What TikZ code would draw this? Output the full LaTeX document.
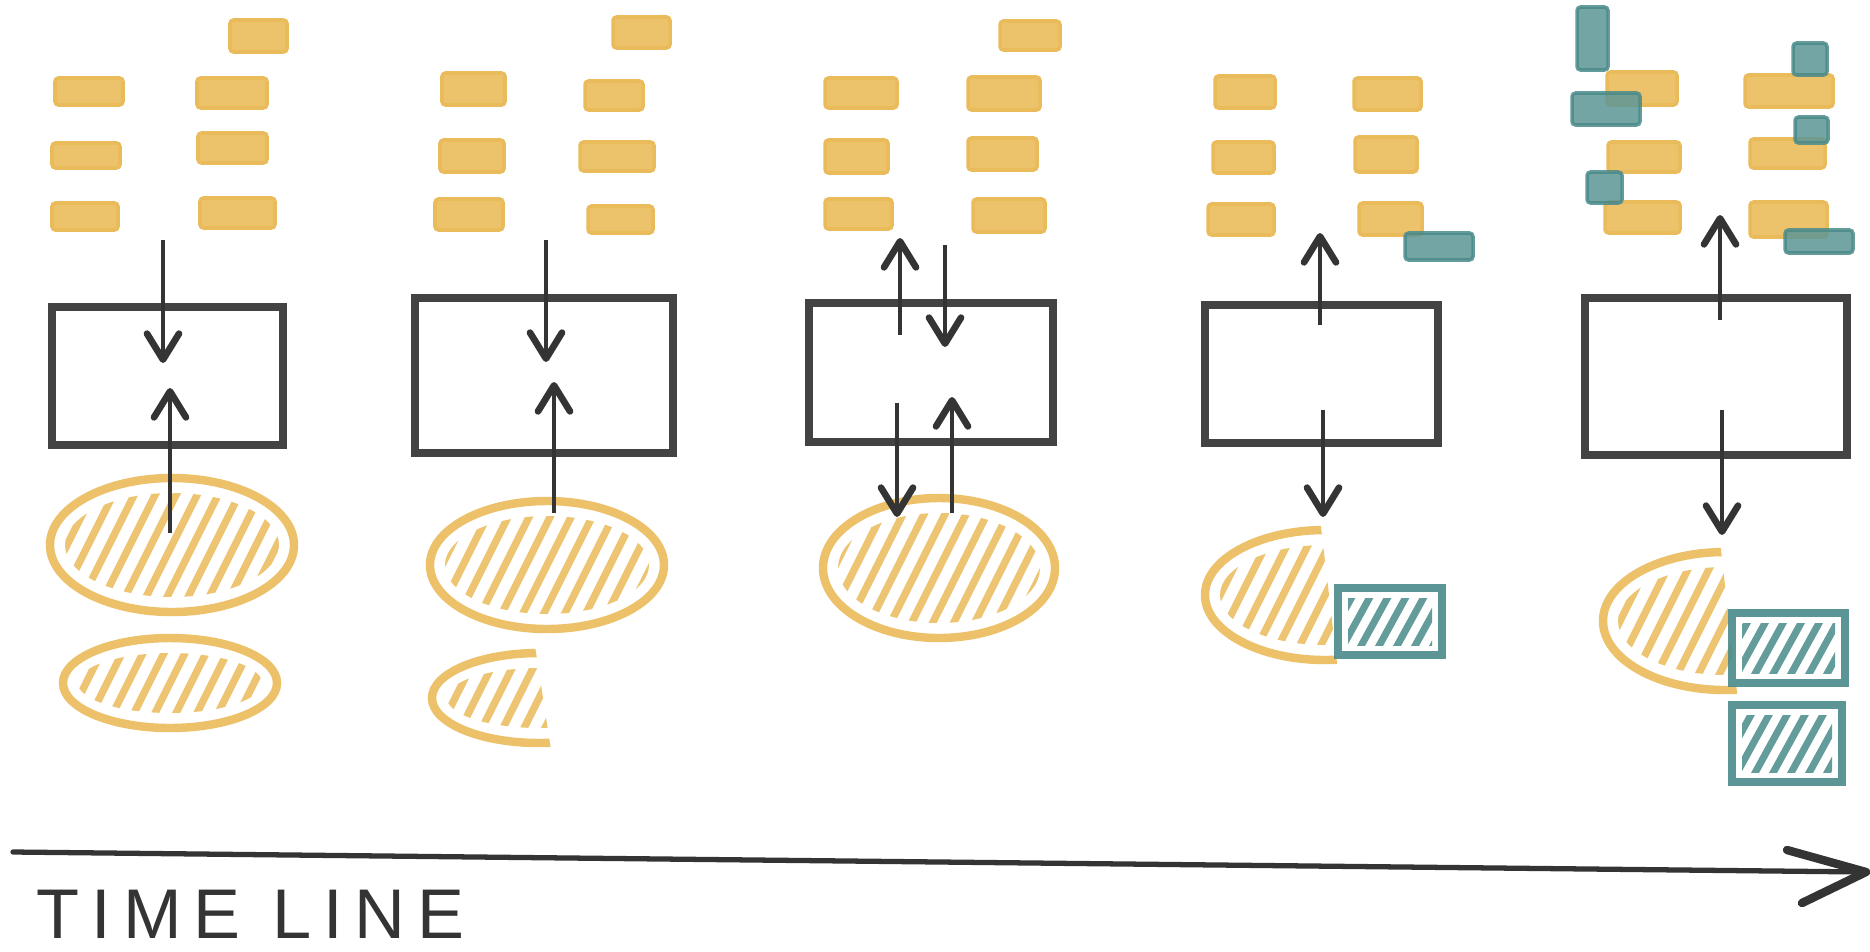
\documentclass[tikz,border=0pt]{standalone}
\usepackage{fontspec}
\usetikzlibrary{arrows.meta,fit}
\newfontfamily\tlfont[LetterSpace=17]{Liberation Sans}
\definecolor{ochre}{RGB}{234,187,90}
\definecolor{tealc}{RGB}{74,138,138}
\definecolor{pencil}{RGB}{52,52,52}
\tikzset{
  ybar/.style={fill=ochre!90, draw=ochre, line width=1pt, rounded corners=1pt, inner sep=0pt},
  tbar/.style={fill=tealc!90, draw=tealc, line width=1pt, rounded corners=1pt, inner sep=0pt, opacity=.85},
  tbig/.style={draw=tealc, line width=2.3pt, inner sep=0pt, opacity=.9},
  boxst/.style={draw=pencil, line width=2.3pt, inner sep=0pt, opacity=.92},
  eo/.style={draw=ochre, line width=2.4pt, opacity=.9},
  hy/.style={draw=ochre, line width=2.1pt, line cap=round, opacity=.85},
  ht/.style={draw=tealc, line width=2pt, line cap=round, opacity=.85},
  arr/.style={draw=pencil, line width=1.1pt, -{Straight Barb[length=2.6mm,width=3.2mm,line width=1.9pt,round]}},
  tline/.style={draw=pencil, line width=1.5pt, line cap=round},
  thead/.style={draw=pencil, line width=2.4pt, line cap=round, line join=round},
}
\newcommand\ybox[5]{\node[ybar, fit={(#2,#3) (#4,#5)}] (#1) {};}
\newcommand\tbox[5]{\node[tbar, fit={(#2,#3) (#4,#5)}] (#1) {};}
\newcommand\hatchE[4]{%
  \begin{scope}
    \clip (#1,#2) ellipse [x radius={#3-15}, y radius={#4-15}];
    \foreach \k in {-14,...,14}{\draw[hy] ({#1+\k*21-0.5*#4},{#2+#4}) -- ++({1.0*#4},{-2*#4});}
  \end{scope}}
\newcommand\halfE[4]{%
  \begin{scope}
    \clip ({#1-#3-20},{#2-#4-20}) -- ({#1-6},{#2-#4-20}) -- ({#1+14},{#2+#4+20}) -- ({#1-#3-20},{#2+#4+20}) -- cycle;
    \draw[eo] (#1,#2) ellipse [x radius=#3, y radius=#4];
    \clip (#1,#2) ellipse [x radius={#3-15}, y radius={#4-15}];
    \foreach \k in {-14,...,14}{\draw[hy] ({#1+\k*21-0.5*#4},{#2+#4}) -- ++({1.0*#4},{-2*#4});}
  \end{scope}}
\newcommand\fullE[4]{%
  \draw[eo] (#1,#2) ellipse [x radius=#3, y radius=#4];
  \hatchE{#1}{#2}{#3}{#4}}
\newcommand\hatchR[4]{%
  \begin{scope}
    \clip ({#1+10},{#2+10}) rectangle ({#3-10},{#4-10});
    \foreach \k in {-5,...,10}{\draw[ht] ({#1+\k*18},{#4}) -- ++({0.55*(#4-#2)},{-(#4-#2)});}
  \end{scope}}
\begin{document}
\begin{tikzpicture}[x=0.01cm,y=-0.01cm]
\fill[white] (0,0) rectangle (1870,951);
\useasboundingbox (0,0) rectangle (1870,951);

% ---------- column 1 ----------
\ybox{c1t}{230}{20}{287}{52}
\ybox{c1la}{55}{78}{123}{105}
\ybox{c1lb}{52}{143}{120}{168}
\ybox{c1lc}{52}{203}{118}{230}
\ybox{c1ra}{197}{78}{267}{108}
\ybox{c1rb}{198}{133}{267}{163}
\ybox{c1rc}{200}{198}{275}{228}
\fullE{172}{545}{122}{67}
\fullE{170}{683}{107}{45}
\node[boxst, fit={(52,307) (283,445)}] (b1) {};
\coordinate (a1s) at (163,240); \coordinate (a1e) at (163,363);
\coordinate (a2s) at (170,533); \coordinate (a2e) at (170,388);
\draw[arr] (a1s) -- (a1e);
\draw[arr] (a2s) -- (a2e);

% ---------- column 2 ----------
\ybox{c2t}{613}{17}{670}{48}
\ybox{c2la}{442}{73}{505}{105}
\ybox{c2lb}{440}{140}{504}{172}
\ybox{c2lc}{435}{199}{503}{230}
\ybox{c2ra}{585}{81}{643}{110}
\ybox{c2rb}{580}{142}{654}{171}
\ybox{c2rc}{588}{206}{653}{233}
\fullE{547}{565}{117}{64}
\halfE{539}{698}{107}{45}
\node[boxst, fit={(415,298) (673,453)}] (b2) {};
\coordinate (a3s) at (546,240); \coordinate (a3e) at (546,362);
\coordinate (a4s) at (554,513); \coordinate (a4e) at (554,382);
\draw[arr] (a3s) -- (a3e);
\draw[arr] (a4s) -- (a4e);

% ---------- column 3 ----------
\ybox{c3t}{1000}{21}{1060}{50}
\ybox{c3la}{825}{78}{897}{108}
\ybox{c3lb}{825}{140}{888}{173}
\ybox{c3lc}{825}{199}{892}{229}
\ybox{c3ra}{968}{77}{1040}{110}
\ybox{c3rb}{968}{138}{1037}{170}
\ybox{c3rc}{973}{199}{1045}{232}
\fullE{939}{568}{116}{70}
\node[boxst, fit={(809,303) (1053,442)}] (b3) {};
\coordinate (a5s) at (900,335); \coordinate (a5e) at (900,238);
\coordinate (a6s) at (945,245); \coordinate (a6e) at (945,347);
\coordinate (a7s) at (897,403); \coordinate (a7e) at (897,517);
\coordinate (a8s) at (952,513); \coordinate (a8e) at (952,397);
\draw[arr] (a5s) -- (a5e);
\draw[arr] (a6s) -- (a6e);
\draw[arr] (a7s) -- (a7e);
\draw[arr] (a8s) -- (a8e);

% ---------- column 4 ----------
\ybox{c4la}{1215}{76}{1275}{108}
\ybox{c4lb}{1213}{142}{1274}{173}
\ybox{c4lc}{1208}{204}{1274}{235}
\ybox{c4ra}{1354}{78}{1421}{110}
\ybox{c4rb}{1355}{137}{1417}{172}
\ybox{c4rc}{1359}{203}{1422}{235}
\tbox{c4g}{1405}{233}{1473}{260}
\halfE{1325}{595}{120}{65}
\node[tbig, fit={(1338,588) (1442,655)}] (t4) {};
\hatchR{1338}{588}{1442}{655}
\node[boxst, fit={(1205,305) (1438,443)}] (b4) {};
\coordinate (a9s) at (1320,325); \coordinate (a9e) at (1320,233);
\coordinate (a10s) at (1323,410); \coordinate (a10e) at (1323,517);
\draw[arr] (a9s) -- (a9e);
\draw[arr] (a10s) -- (a10e);

% ---------- column 5 ----------
\ybox{c5la}{1607}{72}{1677}{105}
\ybox{c5lb}{1608}{142}{1680}{172}
\ybox{c5lc}{1605}{202}{1680}{233}
\ybox{c5ra}{1745}{75}{1833}{107}
\ybox{c5rb}{1750}{139}{1825}{168}
\ybox{c5rc}{1750}{202}{1827}{237}
\tbox{c5ga}{1577}{7}{1608}{70}
\tbox{c5gb}{1572}{93}{1640}{125}
\tbox{c5gc}{1587}{172}{1622}{203}
\tbox{c5gd}{1793}{43}{1827}{75}
\tbox{c5ge}{1795}{117}{1828}{143}
\tbox{c5gf}{1785}{230}{1853}{253}
\halfE{1725}{621}{122}{69}
\node[tbig, fit={(1732,613) (1845,683)}] (t5a) {};
\hatchR{1732}{613}{1845}{683}
\node[tbig, fit={(1732,705) (1842,782)}] (t5b) {};
\hatchR{1732}{705}{1842}{782}
\node[boxst, fit={(1585,298) (1847,455)}] (b5) {};
\coordinate (a11s) at (1720,320); \coordinate (a11e) at (1720,215);
\coordinate (a12s) at (1722,410); \coordinate (a12e) at (1722,535);
\draw[arr] (a11s) -- (a11e);
\draw[arr] (a12s) -- (a12e);

% ---------- time line ----------
\coordinate (tl0) at (13,852);
\coordinate (tl1) at (1866,872);
\coordinate (th1) at (1787,850);
\coordinate (th2) at (1802,903);
\draw[tline] (tl0) -- (tl1);
\draw[thead] (th1) -- (tl1) -- (th2);
\node[anchor=base west, font=\tlfont\fontsize{20}{24}\selectfont, text=pencil, inner sep=0pt] (tlabel) at (36,938) {TIME LINE};
\end{tikzpicture}
\end{document}
